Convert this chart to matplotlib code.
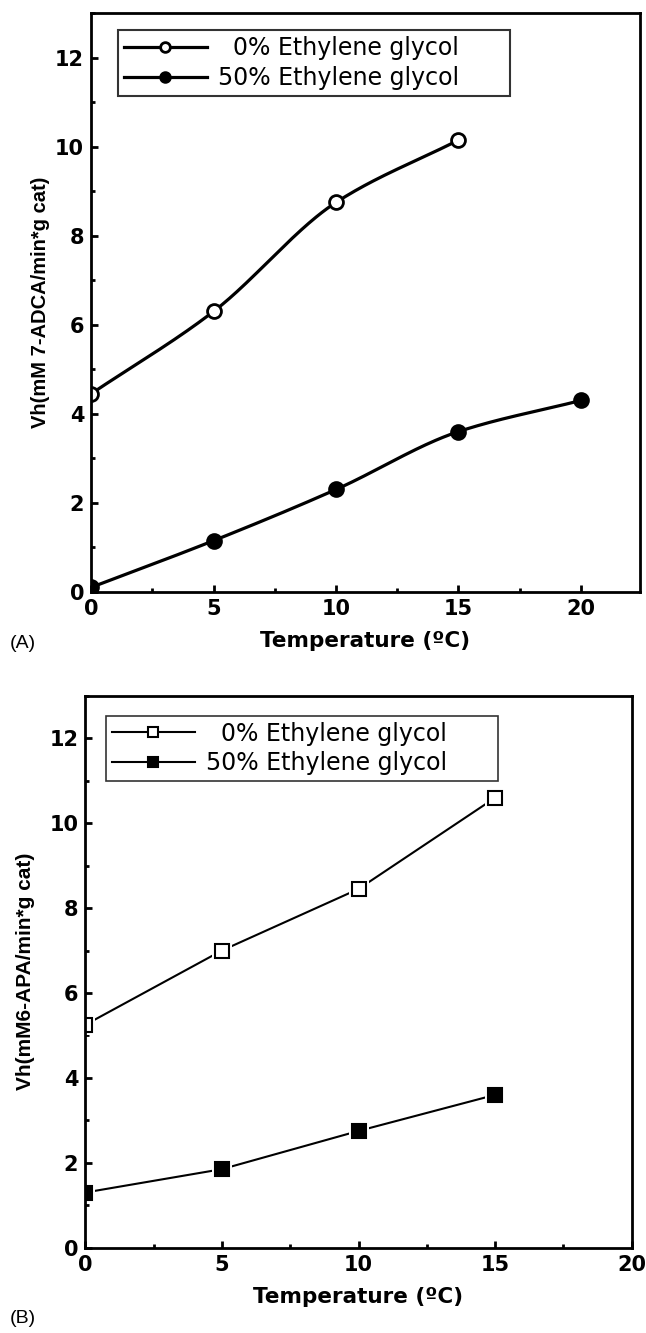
import matplotlib
matplotlib.use("Agg")
import matplotlib.pyplot as plt
import numpy as np
from matplotlib.ticker import MultipleLocator

plt.rcParams['font.family'] = ['DejaVu Sans']

# panel A data
temp_a0 = [0, 5, 10, 15]
vh_a0 = [4.45, 6.3, 8.75, 10.15]
temp_a50 = [0, 5, 10, 15, 20]
vh_a50 = [0.1, 1.15, 2.3, 3.6, 4.3]

# panel B data
temp_b0 = [0, 5, 10, 15]
vh_b0 = [5.25, 7.0, 8.45, 10.6]
temp_b50 = [0, 5, 10, 15]
vh_b50 = [1.3, 1.85, 2.75, 3.6]

labels = ["  0% Ethylene glycol      ", "50% Ethylene glycol      "]


def smooth(x, y, n=200):
    # monotone cubic (pchip) curve through the points, only for drawing
    x = np.asarray(x, float); y = np.asarray(y, float)
    h = np.diff(x); d = np.diff(y) / h
    m = np.zeros_like(y)
    for i in range(1, len(x) - 1):
        if d[i - 1] * d[i] > 0:
            w1 = 2 * h[i] + h[i - 1]; w2 = h[i] + 2 * h[i - 1]
            m[i] = (w1 + w2) / (w1 / d[i - 1] + w2 / d[i])
    m[0] = d[0]; m[-1] = d[-1]
    xs = np.linspace(x[0], x[-1], n)
    idx = np.clip(np.searchsorted(x, xs) - 1, 0, len(x) - 2)
    t = (xs - x[idx]) / h[idx]
    h00 = 2 * t**3 - 3 * t**2 + 1; h10 = t**3 - 2 * t**2 + t
    h01 = -2 * t**3 + 3 * t**2; h11 = t**3 - t**2
    ys = h00 * y[idx] + h10 * h[idx] * m[idx] + h01 * y[idx + 1] + h11 * h[idx] * m[idx + 1]
    return xs, ys


def style(ax, xmax):
    ax.set_xlim(0, xmax)
    ax.set_ylim(0, 13)
    ax.xaxis.set_major_locator(MultipleLocator(5))
    ax.xaxis.set_minor_locator(MultipleLocator(2.5))
    ax.yaxis.set_major_locator(MultipleLocator(2))
    ax.yaxis.set_minor_locator(MultipleLocator(1))
    ax.tick_params(which='both', direction='in', top=False, right=False, width=2)
    ax.tick_params(which='major', length=5, labelsize=15, pad=5)
    ax.tick_params(which='minor', length=3)
    for s in ax.spines.values():
        s.set_linewidth(2)
    for lb in ax.get_xticklabels() + ax.get_yticklabels():
        lb.set_fontweight('bold')
    ax.set_xlabel("Temperature (ºC)", fontsize=15.5, fontweight='bold', labelpad=9)


def add_legend(ax, handles, anchor, lw):
    leg = ax.legend(handles, labels, loc='upper left', bbox_to_anchor=anchor,
                    prop={'size': 17}, frameon=True, fancybox=False, edgecolor='black',
                    handlelength=3.5, borderpad=0.25, labelspacing=0.25,
                    handletextpad=0.5, borderaxespad=0)
    leg.get_frame().set_linewidth(lw)
    return leg


fig = plt.figure(figsize=(6.46, 13.33), dpi=100)

# (A)
ax1 = fig.add_axes([0.141, 0.556, 0.849, 0.434])
xs, ys = smooth(temp_a0, vh_a0)
ax1.plot(xs, ys, color='black', lw=2.3)
ax1.plot(temp_a0, vh_a0, 'o', ms=10, mfc='white', mec='black', mew=2)
xs, ys = smooth(temp_a50, vh_a50)
ax1.plot(xs, ys, color='black', lw=2.3)
ax1.plot(temp_a50, vh_a50, 'o', ms=10, mfc='black', mec='black', mew=2)
h1 = ax1.plot([], [], '-o', color='black', lw=2.3, ms=7, mfc='white', mew=2)[0]
h2 = ax1.plot([], [], '-o', color='black', lw=2.3, ms=7, mfc='black', mew=2)[0]
style(ax1, 22.4)
ax1.set_ylabel("Vh(mM 7-ADCA/min*g cat)", family='Liberation Sans', fontsize=14.5,
               fontweight='bold', labelpad=4)
add_legend(ax1, [h1, h2], (0.049, 0.971), 1.5)
fig.text(0.015, 0.517, "(A)", fontsize=14, family='Liberation Sans', va='center')

# (B)
ax2 = fig.add_axes([0.132, 0.064, 0.846, 0.414])
for tx, vy, fc in [(temp_b0, vh_b0, 'white'), (temp_b50, vh_b50, 'black')]:
    ax2.plot(tx, vy, color='black', lw=1.5)
    ax2.plot(tx, vy, 's', ms=14, mfc='white', mec='white', mew=0)
    ax2.plot(tx, vy, 's', ms=10, mfc=fc, mec='black', mew=1.5)
g1 = ax2.plot([], [], '-s', color='black', lw=1.5, ms=7, mfc='white', mew=1.5)[0]
g2 = ax2.plot([], [], '-s', color='black', lw=1.5, ms=7, mfc='black', mew=1.5)[0]
style(ax2, 20)
ax2.set_ylabel("Vh(mM6-APA/min*g cat)", family='Liberation Sans', fontsize=15,
               fontweight='bold', labelpad=10)
add_legend(ax2, [g1, g2], (0.038, 0.964), 1.2)
fig.text(0.015, 0.011, "(B)", fontsize=14, family='Liberation Sans', va='center')

fig.savefig("out.png", dpi=100)
